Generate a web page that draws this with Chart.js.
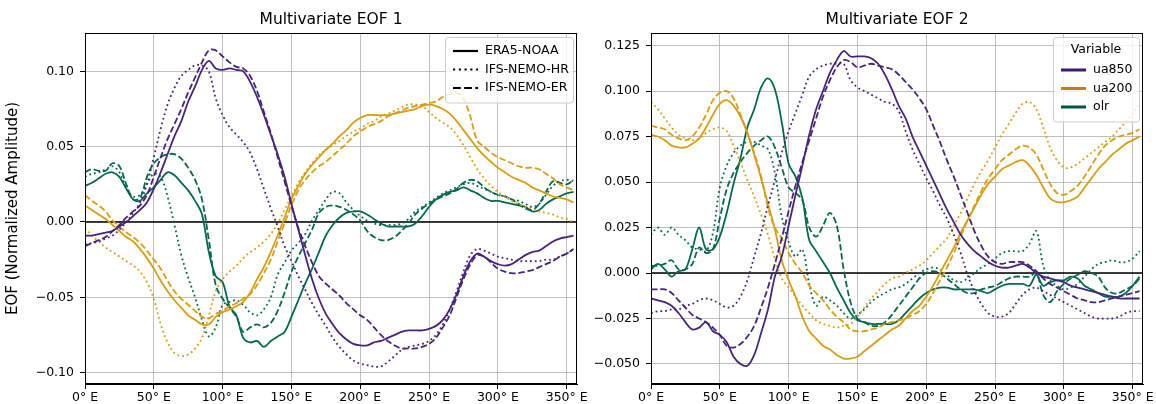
<!DOCTYPE html>
<html>
<head>
<meta charset="utf-8">
<script src="https://cdn.jsdelivr.net/npm/chart.js@4.4.1/dist/chart.umd.min.js"></script>
<style>
  body { margin: 0; background: #fff; }
  #wrap { position: relative; width: 1156px; height: 404px; }
  #c1 { position: absolute; left: 0; top: 0; }
  #c2 { position: absolute; left: 590px; top: 0; }
</style>
</head>
<body>
<div id="wrap">
  <canvas id="c1" width="590" height="404"></canvas>
  <canvas id="c2" width="566" height="404"></canvas>
</div>
<script>
// longitudes (deg E)
var lon = [0,5,10,15,20,25,30,35,40,45,50,55,60,65,70,75,80,85,90,95,100,105,110,115,120,125,130,135,140,145,150,155,160,165,170,175,180,185,190,195,200,205,210,215,220,225,230,235,240,245,250,255,260,265,270,275,280,285,290,295,300,305,310,315,320,325,330,335,340,345,350,355];

var xTicks = [0, 50, 100, 150, 200, 250, 300, 350];
var yTicks1 = [-0.10, -0.05, 0.00, 0.05, 0.10];
var yTicks2 = [-0.050, -0.025, 0.000, 0.025, 0.050, 0.075, 0.100, 0.125];

var variables = ['ua850', 'ua200', 'olr'];
var sources = ['ERA5-NOAA', 'IFS-NEMO-HR', 'IFS-NEMO-ER'];

// ---- EOF 1 ----
var eof1_ua850_era5 = [-0.009,-0.009,-0.008,-0.007,-0.006,-0.003,0.000,0.004,0.008,0.013,0.022,0.033,0.045,0.057,0.067,0.080,0.090,0.101,0.107,0.102,0.101,0.102,0.101,0.100,0.093,0.083,0.071,0.058,0.045,0.030,0.012,-0.005,-0.022,-0.038,-0.051,-0.061,-0.068,-0.074,-0.078,-0.081,-0.082,-0.082,-0.080,-0.079,-0.077,-0.075,-0.073,-0.072,-0.072,-0.072,-0.071,-0.069,-0.065,-0.058,-0.048,-0.036,-0.026,-0.021,-0.023,-0.026,-0.028,-0.029,-0.028,-0.025,-0.022,-0.020,-0.019,-0.016,-0.013,-0.011,-0.010,-0.009];
var eof1_ua850_hr = [-0.015,-0.014,-0.013,-0.011,-0.009,-0.005,0.000,0.006,0.013,0.025,0.043,0.062,0.078,0.089,0.097,0.101,0.104,0.104,0.100,0.082,0.071,0.063,0.058,0.053,0.046,0.035,0.022,0.009,-0.003,-0.016,-0.026,-0.036,-0.045,-0.054,-0.062,-0.069,-0.077,-0.083,-0.088,-0.092,-0.094,-0.095,-0.096,-0.096,-0.093,-0.089,-0.085,-0.083,-0.082,-0.081,-0.079,-0.075,-0.068,-0.058,-0.046,-0.033,-0.022,-0.018,-0.019,-0.021,-0.023,-0.024,-0.025,-0.026,-0.026,-0.026,-0.026,-0.025,-0.025,-0.023,-0.021,-0.018];
var eof1_ua850_er = [-0.016,-0.014,-0.012,-0.010,-0.006,-0.002,0.003,0.007,0.011,0.018,0.030,0.043,0.055,0.065,0.075,0.086,0.096,0.106,0.114,0.114,0.110,0.106,0.103,0.102,0.097,0.087,0.073,0.059,0.043,0.027,0.011,-0.004,-0.016,-0.027,-0.036,-0.041,-0.045,-0.049,-0.054,-0.058,-0.062,-0.065,-0.070,-0.075,-0.079,-0.082,-0.084,-0.084,-0.084,-0.083,-0.081,-0.077,-0.070,-0.062,-0.050,-0.038,-0.028,-0.022,-0.023,-0.027,-0.031,-0.033,-0.034,-0.034,-0.033,-0.032,-0.030,-0.028,-0.026,-0.023,-0.021,-0.018];
var eof1_ua200_era5 = [0.011,0.008,0.005,0.002,-0.002,-0.006,-0.010,-0.013,-0.018,-0.024,-0.031,-0.039,-0.046,-0.052,-0.057,-0.062,-0.065,-0.068,-0.068,-0.063,-0.060,-0.058,-0.056,-0.053,-0.047,-0.038,-0.030,-0.020,-0.009,0.003,0.015,0.024,0.032,0.038,0.043,0.048,0.052,0.057,0.061,0.066,0.069,0.071,0.071,0.071,0.071,0.072,0.073,0.074,0.075,0.077,0.078,0.077,0.075,0.072,0.067,0.061,0.055,0.049,0.044,0.040,0.036,0.033,0.030,0.028,0.026,0.023,0.021,0.019,0.017,0.016,0.015,0.013];
var eof1_ua200_hr = [-0.004,-0.009,-0.013,-0.017,-0.020,-0.023,-0.026,-0.029,-0.033,-0.040,-0.051,-0.068,-0.080,-0.087,-0.089,-0.088,-0.084,-0.077,-0.062,-0.046,-0.038,-0.033,-0.029,-0.024,-0.020,-0.017,-0.013,-0.008,-0.001,0.008,0.017,0.026,0.033,0.039,0.044,0.048,0.051,0.054,0.057,0.060,0.062,0.065,0.067,0.070,0.072,0.074,0.076,0.078,0.078,0.077,0.073,0.069,0.066,0.063,0.058,0.051,0.043,0.035,0.029,0.024,0.020,0.017,0.014,0.012,0.010,0.009,0.007,0.006,0.005,0.003,0.002,0.000];
var eof1_ua200_er = [0.018,0.014,0.011,0.007,0.001,-0.003,-0.007,-0.010,-0.014,-0.019,-0.025,-0.031,-0.039,-0.046,-0.051,-0.055,-0.059,-0.063,-0.064,-0.061,-0.059,-0.056,-0.054,-0.051,-0.048,-0.042,-0.034,-0.025,-0.013,-0.001,0.011,0.021,0.028,0.033,0.037,0.040,0.044,0.048,0.052,0.057,0.060,0.063,0.065,0.067,0.070,0.072,0.074,0.076,0.077,0.078,0.079,0.080,0.083,0.085,0.086,0.082,0.070,0.054,0.050,0.046,0.043,0.041,0.039,0.037,0.036,0.036,0.035,0.032,0.029,0.025,0.023,0.021];
var eof1_olr_era5 = [0.024,0.026,0.029,0.032,0.033,0.030,0.022,0.015,0.014,0.019,0.023,0.028,0.033,0.031,0.026,0.021,0.014,0.005,-0.020,-0.036,-0.040,-0.056,-0.062,-0.077,-0.080,-0.079,-0.083,-0.079,-0.076,-0.073,-0.063,-0.052,-0.041,-0.031,-0.020,-0.009,-0.002,0.003,0.006,0.007,0.007,0.005,0.002,-0.001,-0.003,-0.003,-0.003,-0.003,-0.001,0.004,0.010,0.015,0.018,0.020,0.021,0.023,0.021,0.019,0.016,0.014,0.014,0.013,0.012,0.011,0.010,0.007,0.008,0.012,0.015,0.017,0.019,0.020];
var eof1_olr_hr = [0.030,0.032,0.033,0.035,0.037,0.033,0.023,0.017,0.018,0.025,0.032,0.030,0.017,-0.002,-0.022,-0.037,-0.050,-0.065,-0.076,-0.070,-0.055,-0.053,-0.052,-0.055,-0.060,-0.062,-0.058,-0.050,-0.035,-0.027,-0.019,-0.014,-0.008,0.001,0.008,0.015,0.020,0.019,0.013,0.008,0.004,0.001,-0.001,-0.002,-0.002,-0.002,-0.001,0.002,0.007,0.010,0.013,0.016,0.019,0.021,0.023,0.025,0.026,0.024,0.022,0.020,0.018,0.017,0.015,0.014,0.012,0.010,0.012,0.018,0.024,0.027,0.028,0.027];
var eof1_olr_er = [0.033,0.035,0.034,0.034,0.039,0.037,0.025,0.015,0.016,0.030,0.039,0.043,0.045,0.045,0.042,0.036,0.028,0.015,-0.012,-0.042,-0.051,-0.057,-0.063,-0.073,-0.070,-0.068,-0.070,-0.067,-0.059,-0.047,-0.033,-0.023,-0.014,-0.005,0.006,0.010,0.011,0.010,0.008,0.005,0.001,-0.006,-0.010,-0.012,-0.012,-0.010,-0.006,-0.001,0.005,0.009,0.012,0.015,0.017,0.019,0.022,0.026,0.028,0.027,0.023,0.020,0.018,0.017,0.015,0.012,0.009,0.008,0.012,0.020,0.027,0.026,0.025,0.028];

// ---- EOF 2 ----
var eof2_ua850_era5 = [-0.014,-0.015,-0.016,-0.018,-0.022,-0.027,-0.031,-0.030,-0.027,-0.032,-0.034,-0.038,-0.046,-0.050,-0.051,-0.045,-0.033,-0.020,-0.002,0.009,0.026,0.043,0.059,0.076,0.090,0.100,0.110,0.117,0.122,0.119,0.119,0.119,0.118,0.115,0.109,0.101,0.092,0.085,0.075,0.067,0.059,0.051,0.043,0.035,0.028,0.021,0.016,0.012,0.009,0.006,0.004,0.003,0.003,0.004,0.005,0.003,0.000,-0.002,-0.003,-0.004,-0.005,-0.007,-0.008,-0.009,-0.010,-0.011,-0.012,-0.013,-0.014,-0.014,-0.014,-0.014];
var eof2_ua850_hr = [-0.022,-0.021,-0.021,-0.020,-0.020,-0.018,-0.017,-0.015,-0.014,-0.015,-0.017,-0.019,-0.018,-0.013,-0.004,0.009,0.022,0.037,0.051,0.066,0.078,0.088,0.098,0.108,0.112,0.114,0.115,0.115,0.115,0.106,0.102,0.100,0.098,0.096,0.094,0.093,0.089,0.078,0.068,0.060,0.052,0.045,0.037,0.030,0.021,0.011,-0.001,-0.010,-0.017,-0.022,-0.024,-0.024,-0.022,-0.017,-0.012,-0.009,-0.008,-0.010,-0.012,-0.014,-0.016,-0.018,-0.020,-0.022,-0.024,-0.025,-0.025,-0.025,-0.024,-0.022,-0.021,-0.021];
var eof2_ua850_er = [-0.009,-0.009,-0.009,-0.011,-0.015,-0.019,-0.023,-0.025,-0.027,-0.030,-0.034,-0.040,-0.041,-0.039,-0.035,-0.029,-0.019,-0.008,0.005,0.019,0.034,0.048,0.061,0.073,0.085,0.097,0.106,0.113,0.117,0.116,0.113,0.114,0.115,0.114,0.113,0.112,0.109,0.105,0.101,0.096,0.090,0.081,0.072,0.062,0.053,0.043,0.033,0.023,0.015,0.009,0.006,0.005,0.006,0.006,0.006,0.004,0.001,-0.003,-0.006,-0.008,-0.010,-0.012,-0.014,-0.015,-0.016,-0.016,-0.015,-0.014,-0.013,-0.012,-0.011,-0.010];
var eof2_ua200_era5 = [0.076,0.075,0.073,0.070,0.069,0.069,0.071,0.074,0.080,0.087,0.093,0.095,0.092,0.086,0.077,0.065,0.052,0.038,0.024,0.007,-0.004,-0.013,-0.024,-0.032,-0.036,-0.040,-0.042,-0.045,-0.047,-0.047,-0.046,-0.043,-0.040,-0.037,-0.034,-0.031,-0.029,-0.025,-0.021,-0.018,-0.013,-0.007,0.000,0.007,0.014,0.022,0.029,0.036,0.043,0.049,0.053,0.057,0.059,0.061,0.062,0.059,0.054,0.047,0.041,0.039,0.039,0.040,0.042,0.047,0.052,0.057,0.061,0.065,0.068,0.071,0.073,0.075];
var eof2_ua200_hr = [0.094,0.090,0.085,0.080,0.076,0.074,0.073,0.074,0.077,0.079,0.080,0.078,0.070,0.061,0.051,0.042,0.032,0.021,0.008,-0.003,-0.008,-0.013,-0.018,-0.022,-0.026,-0.028,-0.029,-0.030,-0.029,-0.028,-0.024,-0.019,-0.014,-0.010,-0.006,-0.003,-0.002,0.000,0.002,0.004,0.007,0.011,0.015,0.019,0.026,0.033,0.041,0.049,0.056,0.062,0.069,0.076,0.082,0.088,0.093,0.094,0.090,0.080,0.069,0.062,0.058,0.058,0.060,0.063,0.066,0.069,0.072,0.075,0.079,0.083,0.088,0.093];
var eof2_ua200_er = [0.081,0.080,0.079,0.076,0.074,0.073,0.075,0.080,0.087,0.095,0.099,0.100,0.096,0.087,0.077,0.066,0.053,0.036,0.025,0.019,0.011,0.005,0.000,-0.007,-0.011,-0.015,-0.020,-0.024,-0.027,-0.031,-0.032,-0.032,-0.031,-0.030,-0.028,-0.027,-0.026,-0.025,-0.023,-0.021,-0.017,-0.011,-0.004,0.003,0.011,0.020,0.029,0.037,0.045,0.052,0.057,0.062,0.065,0.068,0.070,0.069,0.065,0.057,0.049,0.044,0.043,0.045,0.048,0.053,0.059,0.065,0.070,0.073,0.075,0.076,0.077,0.079];
var eof2_olr_era5 = [0.002,0.005,0.002,-0.002,0.001,0.002,0.013,0.025,0.013,0.013,0.020,0.033,0.049,0.063,0.080,0.090,0.102,0.107,0.101,0.083,0.060,0.053,0.041,0.018,0.012,0.006,0.000,-0.008,-0.015,-0.022,-0.026,-0.027,-0.028,-0.028,-0.028,-0.028,-0.026,-0.022,-0.018,-0.014,-0.011,-0.009,-0.008,-0.008,-0.009,-0.009,-0.009,-0.009,-0.010,-0.011,-0.009,-0.007,-0.006,-0.006,-0.006,-0.007,-0.001,-0.007,-0.005,-0.004,-0.004,-0.002,-0.003,-0.007,-0.009,-0.011,-0.013,-0.013,-0.013,-0.011,-0.007,-0.002];
var eof2_olr_hr = [0.021,0.025,0.021,0.025,0.021,0.018,0.014,0.013,0.012,0.022,0.047,0.059,0.066,0.070,0.072,0.072,0.070,0.068,0.055,0.031,0.017,0.009,0.013,-0.006,-0.018,-0.013,-0.015,-0.018,-0.022,-0.025,-0.023,-0.020,-0.016,-0.013,-0.011,-0.009,-0.008,-0.006,-0.003,0.000,0.002,0.003,0.002,-0.001,-0.004,-0.005,-0.003,0.000,0.003,0.005,0.008,0.011,0.012,0.012,0.012,0.016,0.023,0.004,-0.004,-0.007,-0.009,-0.008,-0.006,-0.002,0.002,0.005,0.006,0.007,0.006,0.006,0.008,0.012];
var eof2_olr_er = [0.004,0.004,0.005,0.007,0.002,0.002,0.005,0.014,0.011,0.013,0.030,0.046,0.055,0.061,0.066,0.070,0.073,0.075,0.069,0.058,0.047,0.044,0.040,0.025,0.020,0.026,0.033,0.026,0.002,-0.016,-0.025,-0.027,-0.029,-0.029,-0.027,-0.023,-0.018,-0.013,-0.008,-0.003,0.000,0.001,0.000,-0.003,-0.006,-0.009,-0.011,-0.011,-0.009,-0.008,-0.007,-0.005,-0.003,-0.002,-0.002,-0.002,0.000,-0.012,-0.016,-0.010,-0.006,-0.003,-0.001,0.001,0.000,-0.002,-0.008,-0.011,-0.011,-0.009,-0.007,-0.003];

var lineColors = { ua850: '#46257a', ua200: '#d69e14', olr: '#07684f' };
var legendColors = { ua850: '#3d1c6b', ua200: '#b8860b', olr: '#00573f' };
var dashes = { 'ERA5-NOAA': [], 'IFS-NEMO-HR': [1.8, 3], 'IFS-NEMO-ER': [6.5, 2.8] };

function pts(arr) {
  return lon.map(function (x, i) { return { x: x, y: arr[i] }; });
}

function buildSets(series) {
  var sets = [];
  variables.forEach(function (v) {
    sources.forEach(function (s) {
      sets.push({
        label: v + ' ' + s,
        data: pts(series[v][s]),
        borderColor: lineColors[v],
        borderWidth: 1.8,
        borderDash: dashes[s],
        pointRadius: 0,
        fill: false,
        tension: 0.35
      });
    });
  });
  return sets;
}

function fmt(dec) {
  return function (v) {
    var s = Math.abs(v).toFixed(dec);
    return (v < -1e-9 ? '\u2212' : '') + s;
  };
}

var font = "'DejaVu Sans', sans-serif";

// frame, zero line, title, legend
var decor = {
  id: 'decor',
  beforeDatasetsDraw: function (chart) {
    var ctx = chart.ctx, a = chart.chartArea, y0 = chart.scales.y.getPixelForValue(0);
    ctx.save();
    ctx.beginPath();
    ctx.rect(a.left, a.top, a.right - a.left, a.bottom - a.top);
    ctx.clip();
    ctx.beginPath();
    ctx.moveTo(a.left, y0);
    ctx.lineTo(a.right, y0);
    ctx.strokeStyle = '#000';
    ctx.lineWidth = 1.5;
    ctx.stroke();
    ctx.restore();
  },
  afterDraw: function (chart) {
    var o = chart.options.plugins.decor;
    var ctx = chart.ctx, a = chart.chartArea;
    ctx.save();
    ctx.strokeStyle = '#000';
    ctx.lineWidth = 1;
    ctx.strokeRect(a.left + 0.5, a.top + 0.5, a.right - a.left - 1, a.bottom - a.top - 1);
    ctx.fillStyle = '#000';
    ctx.font = '15.5px ' + font;
    ctx.textAlign = 'center';
    ctx.textBaseline = 'middle';
    ctx.fillText(o.title, (a.left + a.right) / 2, a.top - 13);

    // legend box
    var L = o.legend;
    var rowH = 18.5;
    var headH = L.title ? 19 : 0;
    var w = L.width, h = 10 + headH + rowH * L.items.length;
    var bx = a.right - 4 - w, by = a.top + 4;
    ctx.fillStyle = 'rgba(255,255,255,0.8)';
    ctx.strokeStyle = '#cccccc';
    ctx.lineWidth = 1;
    ctx.beginPath();
    ctx.roundRect(bx + 0.5, by + 0.5, w, h, 3);
    ctx.fill();
    ctx.stroke();
    ctx.font = '12.5px ' + font;
    ctx.textBaseline = 'middle';
    if (L.title) {
      ctx.fillStyle = '#000';
      ctx.textAlign = 'center';
      ctx.fillText(L.title, bx + w / 2, by + 13);
    }
    L.items.forEach(function (it, i) {
      var cy = by + 14 + headH + i * rowH;
      ctx.beginPath();
      ctx.setLineDash(it.dash);
      ctx.strokeStyle = it.color;
      ctx.lineWidth = it.width;
      ctx.moveTo(bx + 8, cy);
      ctx.lineTo(bx + 33, cy);
      ctx.stroke();
      ctx.setLineDash([]);
      ctx.fillStyle = '#000';
      ctx.textAlign = 'left';
      ctx.fillText(it.label, bx + 40, cy);
    });
    ctx.restore();
  }
};

function makeChart(id, sets, yMin, yMax, yTicks, dec, yTitle, yWidth, title, legend) {
  return new Chart(document.getElementById(id).getContext('2d'), {
    type: 'line',
    data: { datasets: sets },
    plugins: [decor],
    options: {
      responsive: false,
      animation: false,
      devicePixelRatio: 1,
      layout: { padding: { top: 33, right: 13, left: 0, bottom: 0 } },
      plugins: {
        legend: { display: false },
        tooltip: { enabled: false },
        decor: { title: title, legend: legend }
      },
      scales: {
        x: {
          type: 'linear',
          min: 0,
          max: 357.5,
          afterBuildTicks: function (s) { s.ticks = xTicks.map(function (v) { return { value: v }; }); },
          afterFit: function (s) { s.height = 20; },
          grid: { color: 'rgba(176,176,176,0.8)', lineWidth: 1, tickLength: 5, tickColor: '#000', drawTicks: true },
          border: { display: true, color: '#000', width: 1 },
          ticks: {
            color: '#000', padding: 1, maxRotation: 0, autoSkip: false,
            font: { family: font, size: 12.5 },
            callback: function (v) { return v + '\u00b0 E'; }
          }
        },
        y: {
          min: yMin,
          max: yMax,
          afterBuildTicks: function (s) { s.ticks = yTicks.map(function (v) { return { value: v }; }); },
          afterFit: function (s) { s.width = yWidth; },
          grid: { color: 'rgba(176,176,176,0.8)', lineWidth: 1, tickLength: 5, tickColor: '#000', drawTicks: true },
          border: { display: true, color: '#000', width: 1 },
          title: yTitle ? { display: true, text: yTitle, color: '#000', font: { family: font, size: 15 }, padding: { top: 4, bottom: 0 } } : { display: false },
          ticks: {
            color: '#000', padding: 6, autoSkip: false,
            font: { family: font, size: 12.5 },
            callback: fmt(dec)
          }
        }
      }
    }
  });
}

var sets1 = buildSets({
  ua850: { 'ERA5-NOAA': eof1_ua850_era5, 'IFS-NEMO-HR': eof1_ua850_hr, 'IFS-NEMO-ER': eof1_ua850_er },
  ua200: { 'ERA5-NOAA': eof1_ua200_era5, 'IFS-NEMO-HR': eof1_ua200_hr, 'IFS-NEMO-ER': eof1_ua200_er },
  olr: { 'ERA5-NOAA': eof1_olr_era5, 'IFS-NEMO-HR': eof1_olr_hr, 'IFS-NEMO-ER': eof1_olr_er }
});
var sets2 = buildSets({
  ua850: { 'ERA5-NOAA': eof2_ua850_era5, 'IFS-NEMO-HR': eof2_ua850_hr, 'IFS-NEMO-ER': eof2_ua850_er },
  ua200: { 'ERA5-NOAA': eof2_ua200_era5, 'IFS-NEMO-HR': eof2_ua200_hr, 'IFS-NEMO-ER': eof2_ua200_er },
  olr: { 'ERA5-NOAA': eof2_olr_era5, 'IFS-NEMO-HR': eof2_olr_hr, 'IFS-NEMO-ER': eof2_olr_er }
});

var legend1 = {
  width: 128,
  items: sources.map(function (s) { return { label: s, color: '#000', dash: dashes[s].map(function (d) { return d * 1.2; }), width: 2.2 }; })
};
var legend2 = {
  title: 'Variable',
  width: 86,
  items: variables.map(function (v) { return { label: v, color: legendColors[v], dash: [], width: 3 }; })
};

makeChart('c1', sets1, -0.1076, 0.1255, yTicks1, 2, 'EOF (Normalized Amplitude)', 85, 'Multivariate EOF 1', legend1);
makeChart('c2', sets2, -0.061, 0.1319, yTicks2, 3, null, 61, 'Multivariate EOF 2', legend2);
</script>
</body>
</html>
